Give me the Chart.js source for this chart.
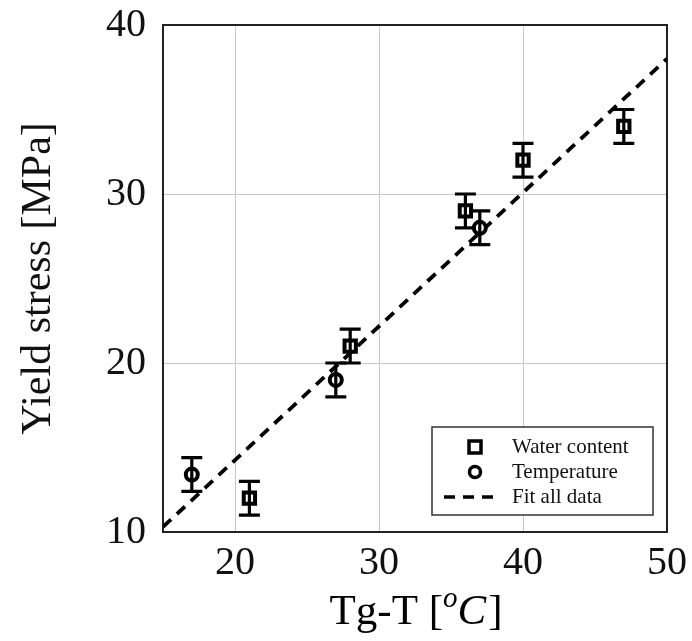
<!DOCTYPE html>
<html>
<head>
<meta charset="utf-8">
<script src="https://cdn.jsdelivr.net/npm/chart.js@4/dist/chart.umd.min.js"></script>
<style>
  html, body { margin: 0; padding: 0; background: #fff; }
  #wrap { width: 692px; height: 641px; }
</style>
</head>
<body>
<div id="wrap"><canvas id="yieldChart"></canvas></div>
<script>
// data
var waterX = [21, 28, 36, 40, 47];
var waterY = [12, 21, 29, 32, 34];
var waterErr = [1, 1, 1, 1, 1];
var tempX = [17, 27, 37];
var tempY = [13.4, 19, 28];
var tempErr = [1, 1, 1];
var fitX = [15, 50];
var fitY = [10.3, 38];
var xTicks = [20, 30, 40, 50];
var yTicks = [10, 20, 30, 40];
var legendLabels = ["Water content", "Temperature", "Fit all data"];

var serif = "'Liberation Serif', 'DejaVu Serif', serif";

function pts(xs, ys, errs) {
  return xs.map(function (x, i) {
    var p = {x: x, y: ys[i]};
    if (errs) p.err = errs[i];
    return p;
  });
}

// frame around the plot
var frame = {
  id: 'frame',
  beforeDatasetsDraw: function (chart) {
    var a = chart.chartArea, ctx = chart.ctx;
    ctx.save();
    ctx.strokeStyle = '#222';
    ctx.lineWidth = 2;
    ctx.strokeRect(a.left, a.top, a.right - a.left, a.bottom - a.top);
    ctx.restore();
  }
};

// vertical error bars with caps
var errorBars = {
  id: 'errorBars',
  afterDatasetsDraw: function (chart) {
    var ctx = chart.ctx, sx = chart.scales.x, sy = chart.scales.y;
    chart.data.datasets.forEach(function (ds) {
      if (!ds.errBars) return;
      ctx.save();
      ctx.strokeStyle = '#000';
      ctx.lineWidth = 3.2;
      ds.data.forEach(function (p) {
        var px = sx.getPixelForValue(p.x);
        var top = sy.getPixelForValue(p.y + p.err);
        var bot = sy.getPixelForValue(p.y - p.err);
        ctx.beginPath();
        ctx.moveTo(px, top); ctx.lineTo(px, bot);
        ctx.moveTo(px - 10.5, top); ctx.lineTo(px + 10.5, top);
        ctx.moveTo(px - 10.5, bot); ctx.lineTo(px + 10.5, bot);
        ctx.stroke();
      });
      ctx.restore();
    });
  }
};

// x axis title with superscript o and italic C
var xTitle = {
  id: 'xTitle',
  afterDraw: function (chart) {
    var ctx = chart.ctx, a = chart.chartArea;
    var parts = [
      {t: 'Tg-T [', f: '43px ' + serif, dy: 0},
      {t: 'o', f: 'italic 29px ' + serif, dy: -17},
      {t: 'C', f: 'italic 43px ' + serif, dy: 0},
      {t: ']', f: '43px ' + serif, dy: 0}
    ];
    ctx.save();
    var w = 0;
    parts.forEach(function (p) { ctx.font = p.f; p.w = ctx.measureText(p.t).width; w += p.w; });
    var x = (a.left + a.right) / 2 - w / 2, base = 624;
    ctx.fillStyle = '#000';
    ctx.textBaseline = 'alphabetic';
    parts.forEach(function (p) {
      ctx.font = p.f;
      ctx.fillText(p.t, x, base + p.dy);
      x += p.w + (p.t === 'C' ? 2 : 0);
    });
    ctx.restore();
  }
};

// boxed legend in the lower right of the plot
var boxLegend = {
  id: 'boxLegend',
  afterDraw: function (chart) {
    var ctx = chart.ctx, a = chart.chartArea;
    var right = a.right - 14, bottom = a.bottom - 17;
    var left = right - 221, top = bottom - 88;
    ctx.save();
    ctx.fillStyle = '#fff';
    ctx.fillRect(left, top, right - left, bottom - top);
    ctx.strokeStyle = '#333';
    ctx.lineWidth = 1.5;
    ctx.strokeRect(left, top, right - left, bottom - top);

    var sx = left + 43, tx = left + 80;
    var rows = [top + 20, top + 45, top + 70];
    ctx.strokeStyle = '#000';
    ctx.lineWidth = 3.5;
    ctx.strokeRect(sx - 6, rows[0] - 6, 12, 12);
    ctx.beginPath();
    ctx.arc(sx, rows[1], 5.5, 0, Math.PI * 2);
    ctx.stroke();
    ctx.setLineDash([11, 8]);
    ctx.beginPath();
    ctx.moveTo(sx - 31, rows[2]);
    ctx.lineTo(sx + 23, rows[2]);
    ctx.stroke();
    ctx.setLineDash([]);

    ctx.fillStyle = '#111';
    ctx.font = '21px ' + serif;
    ctx.textBaseline = 'middle';
    legendLabels.forEach(function (t, i) { ctx.fillText(t, tx, rows[i]); });
    ctx.restore();
  }
};

var ctx = document.getElementById('yieldChart').getContext('2d');
new Chart(ctx, {
  type: 'scatter',
  data: {
    datasets: [
      {
        label: legendLabels[0],
        data: pts(waterX, waterY, waterErr),
        errBars: true,
        pointStyle: 'rect',
        pointRadius: 8,
        pointBorderWidth: 4,
        borderColor: '#000',
        backgroundColor: '#fff',
        order: 1
      },
      {
        label: legendLabels[1],
        data: pts(tempX, tempY, tempErr),
        errBars: true,
        pointStyle: 'circle',
        pointRadius: 6,
        pointBorderWidth: 4,
        borderColor: '#000',
        backgroundColor: '#fff',
        order: 2
      },
      {
        label: legendLabels[2],
        type: 'line',
        data: pts(fitX, fitY),
        showLine: true,
        pointRadius: 0,
        borderColor: '#000',
        borderWidth: 3.8,
        borderDash: [11, 8],
        fill: false,
        order: 3
      }
    ]
  },
  options: {
    responsive: true,
    maintainAspectRatio: false,
    animation: false,
    layout: {padding: {left: 0, right: 25, top: 25, bottom: 0}},
    plugins: {
      legend: {display: false},
      tooltip: {enabled: false}
    },
    scales: {
      x: {
        type: 'linear',
        min: 15,
        max: 50,
        afterBuildTicks: function (s) { s.ticks = xTicks.map(function (v) { return {value: v}; }); },
        afterFit: function (s) { s.height = 109; s.paddingLeft = 0; s.paddingRight = 0; },
        grid: {color: '#c8c8c8', lineWidth: 1, drawTicks: false},
        border: {display: false},
        ticks: {color: '#111', padding: 7, font: {family: serif, size: 40}},
        title: {display: false}
      },
      y: {
        type: 'linear',
        min: 10,
        max: 40,
        afterBuildTicks: function (s) { s.ticks = yTicks.map(function (v) { return {value: v}; }); },
        afterFit: function (s) { s.width = 163; s.paddingTop = 0; s.paddingBottom = 0; },
        grid: {color: '#c8c8c8', lineWidth: 1, drawTicks: false},
        border: {display: false},
        ticks: {color: '#111', padding: 17, font: {family: serif, size: 40}},
        title: {
          display: true,
          text: 'Yield stress [MPa]',
          color: '#111',
          padding: {top: 14, bottom: 0},
          font: {family: serif, size: 42}
        }
      }
    }
  },
  plugins: [frame, errorBars, xTitle, boxLegend]
});
</script>
</body>
</html>
